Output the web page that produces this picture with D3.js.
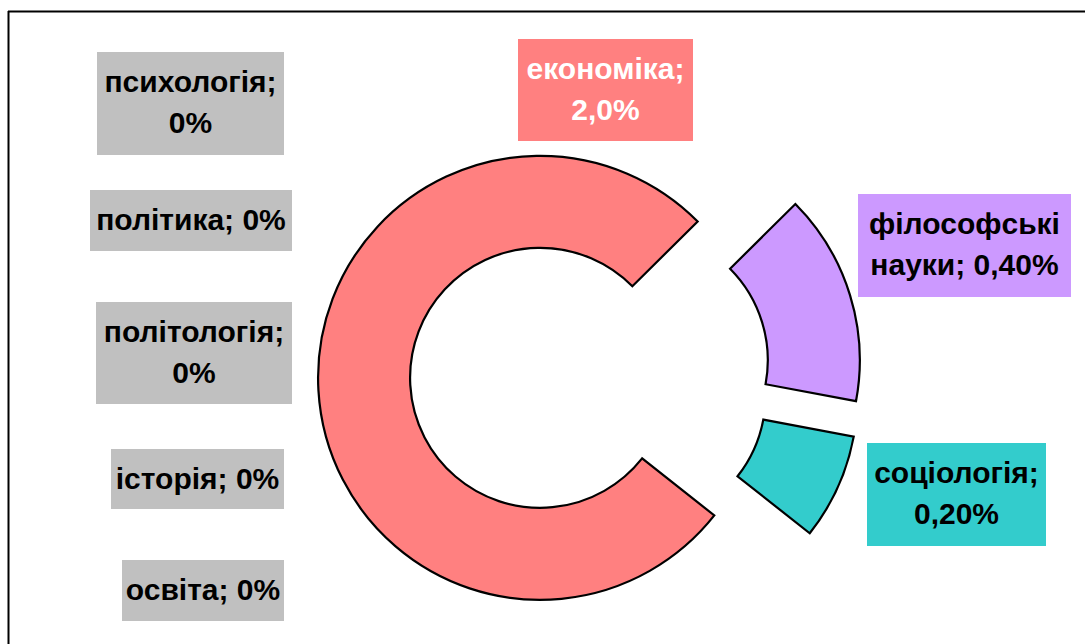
<!DOCTYPE html>
<html>
<head>
<meta charset="utf-8">
<script src="https://cdn.jsdelivr.net/npm/d3@7"></script>
<style>
  html, body { margin: 0; padding: 0; background: #fff; }
  svg { display: block; }
</style>
</head>
<body>
<svg id="chart" width="1085" height="644"></svg>
<script>
// Share of publications by field
const categories = ["економіка", "філософські науки", "соціологія", "психологія", "політика", "політологія", "історія", "освіта"];
const values = [2.0, 0.4, 0.2, 0, 0, 0, 0, 0];
const decimals = [1, 2, 2, 0, 0, 0, 0, 0];
const colors = ["#FF8080", "#CC99FF", "#33CCCC", "#C0C0C0", "#C0C0C0", "#C0C0C0", "#C0C0C0", "#C0C0C0"];
const textColors = ["#FFFFFF", "#000000", "#000000", "#000000", "#000000", "#000000", "#000000", "#000000"];

// Label boxes: [x0, y0, x1, y1, two lines?]
const labelBoxes = [
  [518, 39, 693, 141, true],
  [858, 194, 1071, 297, true],
  [867, 443, 1046, 546, true],
  [97, 52, 284, 155, true],
  [90, 190, 292, 251, false],
  [96, 302, 292, 404, true],
  [111, 449, 284, 509, false],
  [122, 560, 284, 621, false]
];

const W = 1085, H = 644;
const cx = 590, cy = 375;
const outerR = 222, innerR = 130;
const explode = 50;
const startDeg = 128.3;

const svg = d3.select("#chart");

// chart area frame
svg.append("line").attr("x1", 8).attr("y1", 11.5).attr("x2", W).attr("y2", 11.5)
  .attr("stroke", "#000").attr("stroke-width", 2);
svg.append("line").attr("x1", 8.5).attr("y1", 11).attr("x2", 8.5).attr("y2", H)
  .attr("stroke", "#000").attr("stroke-width", 2);

const data = categories.map((c, i) => ({ name: c, value: values[i], i }));

const pie = d3.pie()
  .value(d => d.value)
  .sort(null)
  .startAngle(startDeg * Math.PI / 180)
  .endAngle(startDeg * Math.PI / 180 + 2 * Math.PI);

const arc = d3.arc().innerRadius(innerR).outerRadius(outerR);
const arcs = pie(data);

const g = svg.append("g").attr("transform", `translate(${cx},${cy})`);

g.selectAll("path.slice")
  .data(arcs.filter(a => a.data.value > 0))
  .join("path")
  .attr("class", "slice")
  .attr("d", arc)
  .attr("transform", a => {
    const mid = (a.startAngle + a.endAngle) / 2;
    return `translate(${explode * Math.sin(mid)},${-explode * Math.cos(mid)})`;
  })
  .attr("fill", a => colors[a.data.i])
  .attr("stroke", "#000")
  .attr("stroke-width", 2.2)
  .attr("stroke-linejoin", "miter");

// data labels
const fmt = (v, d) => v.toFixed(d).replace(".", ",") + "%";

const labels = svg.selectAll("g.label")
  .data(data)
  .join("g")
  .attr("class", "label");

labels.append("rect")
  .attr("x", d => labelBoxes[d.i][0])
  .attr("y", d => labelBoxes[d.i][1])
  .attr("width", d => labelBoxes[d.i][2] - labelBoxes[d.i][0])
  .attr("height", d => labelBoxes[d.i][3] - labelBoxes[d.i][1])
  .attr("fill", d => colors[d.i]);

labels.each(function (d) {
  const b = labelBoxes[d.i];
  const full = d.name + "; " + fmt(d.value, decimals[d.i]);
  let lines = [full];
  if (b[4]) {
    const k = full.indexOf(" ");
    lines = [full.slice(0, k), full.slice(k + 1)];
  }
  const t = d3.select(this).append("text")
    .attr("text-anchor", "middle")
    .attr("font-family", "'Liberation Sans', Arial, sans-serif")
    .attr("font-weight", "bold")
    .attr("font-size", 30)
    .attr("fill", textColors[d.i]);
  lines.forEach((ln, j) => {
    t.append("tspan")
      .attr("x", (b[0] + b[2]) / 2)
      .attr("y", b[1] + 40 + j * 41)
      .text(ln);
  });
});
</script>
</body>
</html>
